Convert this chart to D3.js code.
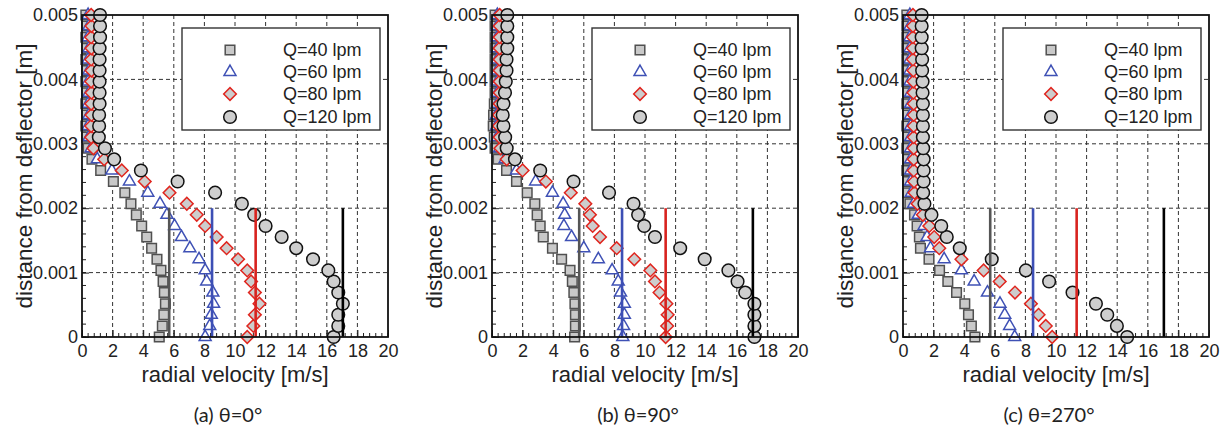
<!DOCTYPE html>
<html><head><meta charset="utf-8">
<script src="https://cdn.jsdelivr.net/npm/d3@7"></script>
<style>body{margin:0;background:#fff}svg{display:block}</style>
</head><body>
<svg id="chart" width="1225" height="430"></svg>
<script>
// ---- data ----
const heights = [0, 0.000172, 0.000345, 0.000517, 0.00069, 0.000862, 0.001034, 0.001207, 0.001379, 0.001552,
  0.001724, 0.001897, 0.002069, 0.002241, 0.002414, 0.002586, 0.002759, 0.002931, 0.003103, 0.003276,
  0.003448, 0.003621, 0.003793, 0.003966, 0.004138, 0.00431, 0.004483, 0.004655, 0.004828, 0.005];
const seriesNames = ["Q=40 lpm", "Q=60 lpm", "Q=80 lpm", "Q=120 lpm"];
const captions = ["(a) θ=0°", "(b) θ=90°", "(c) θ=270°"];
const xTicks = [0, 2, 4, 6, 8, 10, 12, 14, 16, 18, 20];
const yTicks = [0, 0.001, 0.002, 0.003, 0.004, 0.005];
const yTickLabels = ["0", "0.001", "0.002", "0.003", "0.004", "0.005"];
const refVelocity = [5.7, 8.5, 11.35, 17.05];
const refTop = 0.002;

// theta = 0
const q40_t0  = [5.05, 5.25, 5.35, 5.45, 5.38, 5.3, 5.16, 4.9, 4.55, 4.23, 3.9, 3.55, 3.2, 2.8, 2.05, 1.22, 0.65, 0.4, 0.3, 0.25, 0.3, 0.25, 0.3, 0.25, 0.3, 0.25, 0.3, 0.25, 0.3, 0.25];
const q60_t0  = [8.05, 8.35, 8.45, 8.6, 8.55, 8.15, 8.05, 7.65, 7.05, 6.5, 6.05, 5.55, 5.1, 4.3, 3.1, 1.95, 1.0, 0.6, 0.45, 0.4, 0.45, 0.4, 0.45, 0.4, 0.45, 0.4, 0.45, 0.4, 0.45, 0.4];
const q80_t0  = [10.8, 11.2, 11.3, 11.6, 11.3, 11.05, 10.8, 10.2, 9.45, 8.8, 8.05, 7.5, 6.85, 5.72, 4.1, 2.6, 1.45, 0.75, 0.6, 0.6, 0.62, 0.6, 0.62, 0.6, 0.62, 0.6, 0.62, 0.6, 0.62, 0.6];
const q120_t0 = [16.45, 16.75, 16.75, 17.05, 16.75, 16.45, 16.1, 15.1, 14.0, 13.05, 12.0, 11.25, 10.45, 8.7, 6.25, 3.85, 2.1, 1.5, 1.1, 1.12, 1.12, 1.15, 1.15, 1.15, 1.15, 1.15, 1.15, 1.18, 1.18, 1.18];
// theta = 90
const q40_t90  = [5.4, 5.45, 5.45, 5.42, 5.35, 5.25, 5.1, 4.55, 3.95, 3.35, 3.15, 2.95, 2.8, 2.3, 1.6, 0.95, 0.4, 0.2, 0.15, 0.08, 0.1, 0.15, 0.2, 0.2, 0.2, 0.2, 0.2, 0.2, 0.2, 0.2];
const q60_t90  = [8.55, 8.6, 8.65, 8.65, 8.4, 8.25, 7.85, 6.95, 6.0, 5.2, 4.7, 4.75, 4.65, 3.95, 2.85, 1.6, 0.85, 0.5, 0.35, 0.3, 0.3, 0.35, 0.35, 0.35, 0.35, 0.35, 0.35, 0.35, 0.35, 0.35];
const q80_t90  = [11.35, 11.45, 11.48, 11.4, 10.95, 10.65, 10.35, 9.3, 8.15, 7.06, 6.58, 6.4, 6.1, 5.15, 3.52, 2.0, 0.96, 0.55, 0.5, 0.45, 0.45, 0.5, 0.5, 0.5, 0.5, 0.5, 0.5, 0.5, 0.5, 0.5];
const q120_t90 = [17.15, 17.15, 17.15, 17.15, 16.55, 16.05, 15.45, 13.9, 12.3, 10.65, 9.95, 9.55, 9.25, 7.65, 5.33, 3.15, 1.5, 0.96, 0.86, 0.75, 0.7, 0.75, 0.85, 0.9, 0.95, 0.95, 1.0, 1.0, 1.0, 1.0];
// theta = 270
const q40_t270  = [4.7, 4.47, 4.28, 4.04, 3.5, 2.93, 2.39, 1.7, 1.14, 1.07, 0.92, 0.75, 0.45, 0.3, 0.3, 0.25, 0.3, 0.25, 0.3, 0.25, 0.3, 0.25, 0.3, 0.25, 0.25, 0.25, 0.25, 0.25, 0.25, 0.25];
const q60_t270  = [7.3, 6.97, 6.65, 6.34, 5.52, 4.65, 3.82, 2.69, 1.8, 1.57, 1.38, 1.0, 0.7, 0.55, 0.5, 0.5, 0.5, 0.5, 0.5, 0.5, 0.5, 0.5, 0.5, 0.45, 0.45, 0.45, 0.45, 0.45, 0.45, 0.45];
const q80_t270  = [9.75, 9.33, 8.86, 8.36, 7.32, 6.32, 5.27, 3.82, 2.37, 2.04, 1.72, 1.3, 0.95, 0.75, 0.72, 0.7, 0.7, 0.7, 0.7, 0.7, 0.7, 0.7, 0.68, 0.68, 0.68, 0.65, 0.65, 0.65, 0.65, 0.65];
const q120_t270 = [14.65, 13.98, 13.35, 12.61, 11.08, 9.55, 8.03, 5.8, 3.71, 2.86, 2.5, 1.86, 1.4, 1.32, 1.35, 1.35, 1.35, 1.32, 1.3, 1.3, 1.3, 1.3, 1.28, 1.28, 1.25, 1.25, 1.22, 1.22, 1.22, 1.22];

const panelSeries = [
  [q40_t0, q60_t0, q80_t0, q120_t0],
  [q40_t90, q60_t90, q80_t90, q120_t90],
  [q40_t270, q60_t270, q80_t270, q120_t270]
];

// ---- styles ----
const markerStyle = [
  {type: d3.symbolSquare, size: 92, rot: 0, fill: "#c9c9c9", stroke: "#505050"},
  {type: d3.symbolTriangle, size: 62, rot: 0, fill: "#ffffff", stroke: "#3f51b5"},
  {type: d3.symbolSquare, size: 80, rot: 45, fill: "#cdcdcd", stroke: "#e0261f"},
  {type: d3.symbolCircle, size: 125, rot: 0, fill: "#cecece", stroke: "#111111"}
];
const refColors = ["#555555", "#3d4fb5", "#d8231f", "#000000"];

const FONT = "'Liberation Sans', Arial, sans-serif";
const W = 306, H = 322, TOP = 15;
const lefts = [82, 492, 903];

const svg = d3.select("#chart");
const x = d3.scaleLinear().domain([0, 20]).range([0, W]);
const y = d3.scaleLinear().domain([0, 0.005]).range([H, 0]);
const minorX = d3.range(0, 20.001, 0.4);
const minorY = d3.range(0, 0.0050001, 0.0002);

lefts.forEach((lx, p) => {
  const g = svg.append("g").attr("transform", `translate(${lx},${TOP})`);

  // grid
  g.append("g").selectAll("line").data(xTicks.slice(1, -1)).join("line")
    .attr("x1", d => x(d)).attr("x2", d => x(d)).attr("y1", 0).attr("y2", H)
    .attr("stroke", "#333").attr("stroke-width", 1).attr("stroke-dasharray", "4,3");
  g.append("g").selectAll("line").data(yTicks.slice(1, -1)).join("line")
    .attr("y1", d => y(d)).attr("y2", d => y(d)).attr("x1", 0).attr("x2", W)
    .attr("stroke", "#333").attr("stroke-width", 1).attr("stroke-dasharray", "4,3");

  // minor ticks (inward)
  g.append("g").selectAll("line").data(minorX).join("line")
    .attr("x1", d => x(d)).attr("x2", d => x(d)).attr("y1", H).attr("y2", H - 4)
    .attr("stroke", "#222").attr("stroke-width", 1);
  g.append("g").selectAll("line").data(minorY).join("line")
    .attr("y1", d => y(d)).attr("y2", d => y(d)).attr("x1", 0).attr("x2", 4)
    .attr("stroke", "#222").attr("stroke-width", 1);

  // axes
  const ax = g.append("g").attr("transform", `translate(0,${H})`)
    .call(d3.axisBottom(x).tickValues(xTicks).tickSize(-7).tickSizeOuter(0).tickPadding(7).tickFormat(d3.format("d")));
  ax.select(".domain").remove();
  ax.selectAll("text").attr("font-family", FONT).attr("font-size", 18).attr("fill", "#222");
  ax.selectAll("line").attr("stroke", "#222");

  const ay = g.append("g")
    .call(d3.axisLeft(y).tickValues(yTicks).tickSize(-7).tickSizeOuter(0).tickPadding(4).tickFormat((d, i) => yTickLabels[i]));
  ay.select(".domain").remove();
  ay.selectAll("text").attr("font-family", FONT).attr("font-size", 18).attr("fill", "#222");
  ay.selectAll("line").attr("stroke", "#222");

  // markers
  panelSeries[p].forEach((vals, s) => {
    const st = markerStyle[s];
    const sym = d3.symbol().type(st.type).size(st.size);
    g.append("g").selectAll("path").data(vals).join("path")
      .attr("d", sym)
      .attr("transform", (d, i) => `translate(${x(d)},${y(heights[i])}) rotate(${st.rot})`)
      .attr("fill", st.fill).attr("stroke", st.stroke).attr("stroke-width", 1.5);
  });

  // reference lines
  g.append("g").selectAll("line").data(refVelocity).join("line")
    .attr("x1", d => x(d)).attr("x2", d => x(d)).attr("y1", y(0)).attr("y2", y(refTop))
    .attr("stroke", (d, i) => refColors[i]).attr("stroke-width", 2.6);

  // frame
  g.append("rect").attr("x", 0).attr("y", 0).attr("width", W).attr("height", H)
    .attr("fill", "none").attr("stroke", "#111").attr("stroke-width", 1.8);

  // legend
  const lg = g.append("g");
  lg.append("rect").attr("x", 100).attr("y", 13).attr("width", 198).attr("height", 102)
    .attr("fill", "#fff").attr("stroke", "#333").attr("stroke-width", 1.4);
  const rowsY = [35, 57, 79, 102];
  seriesNames.forEach((name, s) => {
    const st = markerStyle[s];
    lg.append("path").attr("d", d3.symbol().type(st.type).size(st.size)())
      .attr("transform", `translate(148,${rowsY[s]}) rotate(${st.rot})`)
      .attr("fill", st.fill).attr("stroke", st.stroke).attr("stroke-width", 1.5);
    lg.append("text").attr("x", 201).attr("y", rowsY[s]).attr("dy", "0.35em")
      .attr("font-family", FONT).attr("font-size", 18).attr("fill", "#222").text(name);
  });

  // axis titles
  g.append("text").attr("x", W / 2).attr("y", H + 45).attr("text-anchor", "middle")
    .attr("font-family", FONT).attr("font-size", 22).attr("fill", "#222").text("radial velocity [m/s]");
  g.append("text").attr("transform", `translate(-58,${H / 2}) rotate(-90)`)
    .attr("text-anchor", "middle").attr("dy", "0.35em")
    .attr("font-family", FONT).attr("font-size", 22.5).attr("fill", "#222").text("distance from deflector [m]");

  // caption
  svg.append("text").attr("x", lx + W / 2 - 7).attr("y", 422).attr("text-anchor", "middle")
    .attr("font-family", "Lato, 'Open Sans', sans-serif").attr("font-size", 20).attr("fill", "#222")
    .text(captions[p]);
});
</script>
</body></html>
